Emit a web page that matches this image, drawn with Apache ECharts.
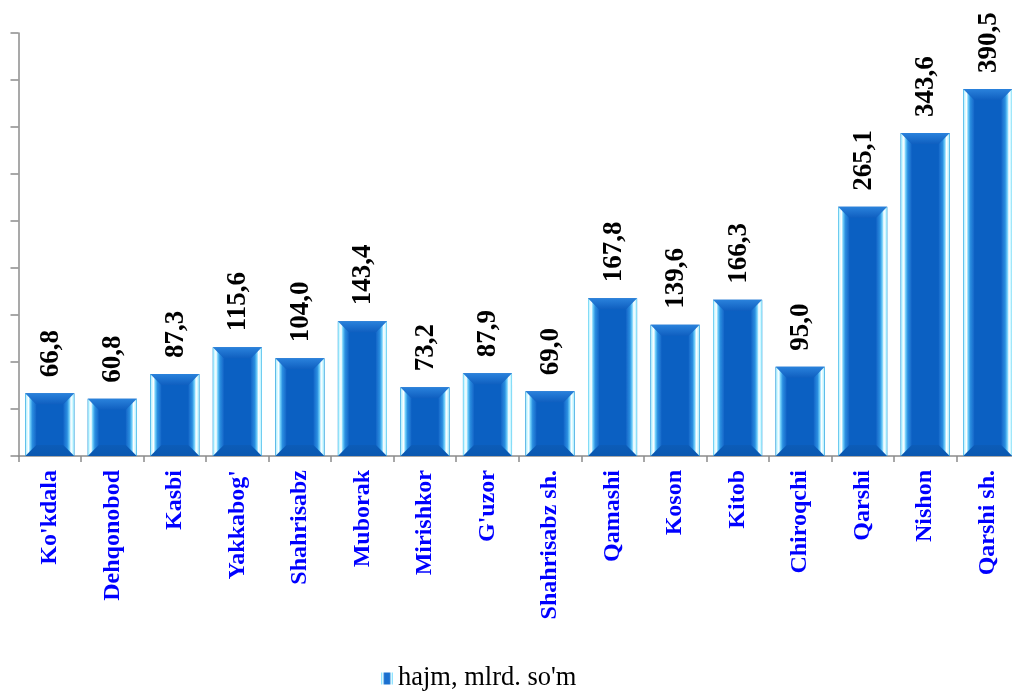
<!DOCTYPE html>
<html><head><meta charset="utf-8">
<script src="https://cdn.jsdelivr.net/npm/echarts@6/dist/echarts.min.js"></script>
<style>html,body{margin:0;padding:0;background:#fff;overflow:hidden;width:1012px;height:691px}#c{width:1019px;height:691px}</style>
</head><body><div id="c"></div>
<script>
const categories = ["Ko'kdala","Dehqonobod","Kasbi","Yakkabog'","Shahrisabz","Muborak","Mirishkor","G'uzor","Shahrisabz sh.","Qamashi","Koson","Kitob","Chiroqchi","Qarshi","Nishon","Qarshi sh."];
const values = [66.8,60.8,87.3,115.6,104.0,143.4,73.2,87.9,69.0,167.8,139.6,166.3,95.0,265.1,343.6,390.5];
const valueLabels = ["66,8","60,8","87,3","115,6","104,0","143,4","73,2","87,9","69,0","167,8","139,6","166,3","95,0","265,1","343,6","390,5"];
const seriesName = "hajm, mlrd. so'm";

const FONT = "'Liberation Serif','Times New Roman',serif";
const G = echarts.graphic;
const sideL = new G.LinearGradient(0,0,1,0,[
  {offset:0,color:'#50c8f0'},{offset:0.1,color:'#c0f4ff'},{offset:0.3,color:'#ffffff'},{offset:0.45,color:'#70d0fa'},{offset:0.65,color:'#2a8ee0'},{offset:1,color:'#1466c8'}]);
const sideR = new G.LinearGradient(0,0,1,0,[
  {offset:0,color:'#1466c8'},{offset:0.35,color:'#2a8ee0'},{offset:0.55,color:'#70d0fa'},{offset:0.7,color:'#ffffff'},{offset:0.9,color:'#c0f4ff'},{offset:1,color:'#50c8f0'}]);
const topG = new G.LinearGradient(0,0,0,1,[{offset:0,color:'#2a82dc'},{offset:1,color:'#0f5fc0'}]);
const botG = new G.LinearGradient(0,0,0,1,[{offset:0,color:'#0c5cb8'},{offset:1,color:'#0a58b0'}]);
const mainC = '#0b60c2';

const chart = echarts.init(document.getElementById('c'));
chart.setOption({
  animation:false,
  grid:{left:18.5, top:33, right:0, height:423, containLabel:false},
  legend:{top:660, left:376, icon:'rect', itemWidth:12, itemHeight:12, itemGap:4,
    textStyle:{fontFamily:FONT, fontSize:26.5, color:'#000'},
    data:[{name:seriesName, itemStyle:{color:new G.LinearGradient(0,0,1,0,[
      {offset:0,color:'#6fd8ff'},{offset:0.15,color:'#e8ffff'},{offset:0.3,color:'#1a70d0'},{offset:0.7,color:'#1a70d0'},{offset:0.85,color:'#e8ffff'},{offset:1,color:'#6fd8ff'}])}}]},
  xAxis:{type:'category', data:categories, boundaryGap:true,
    axisLine:{lineStyle:{color:'#8c8c8c', width:1.5}},
    axisTick:{show:true, length:6, lineStyle:{color:'#8c8c8c', width:1.5}},
    axisLabel:{rotate:90, interval:0, margin:14, color:'#0000ff', fontWeight:'bold', fontFamily:FONT, fontSize:24}},
  yAxis:{type:'value', min:0, max:450, interval:50,
    axisLine:{show:true, lineStyle:{color:'#8c8c8c', width:1.5}},
    axisTick:{show:true, length:8, lineStyle:{color:'#8c8c8c', width:1.5}},
    axisLabel:{show:false}, splitLine:{show:false}},
  series:[{
    name:seriesName, type:'custom', itemStyle:{color:'#1a70d0'},
    data: values.map((v,i)=>[i,v]),
    renderItem:function(params, api){
      const i = api.value(0), v = api.value(1);
      const top = api.coord([i, v]);
      const base = api.coord([i, 0]);
      const w = api.size([1,0])[0]*0.785;
      const x0 = top[0]-w/2, x1 = top[0]+w/2, y0 = top[1], y1 = base[1];
      const d = 11;
      return {type:'group', children:[
        {type:'rect', shape:{x:x0,y:y0,width:w,height:y1-y0}, style:{fill:mainC}},
        {type:'polygon', shape:{points:[[x0,y0],[x1,y0],[x1-d,y0+d],[x0+d,y0+d]]}, style:{fill:topG}},
        {type:'polygon', shape:{points:[[x0+d,y1-d],[x1-d,y1-d],[x1,y1],[x0,y1]]}, style:{fill:botG}},
        {type:'polygon', shape:{points:[[x0,y0],[x0+d,y0+d],[x0+d,y1-d],[x0,y1]]}, style:{fill:sideL}},
        {type:'polygon', shape:{points:[[x1,y0],[x1,y1],[x1-d,y1-d],[x1-d,y0+d]]}, style:{fill:sideR}},
        {type:'text', x:top[0]+1, y:y0-16, rotation:Math.PI/2,
          style:{text:valueLabels[i], fill:'#000', font:'bold 27px '+FONT, align:'left', verticalAlign:'middle'}}
      ]};
    }
  }]
});
</script></body></html>
